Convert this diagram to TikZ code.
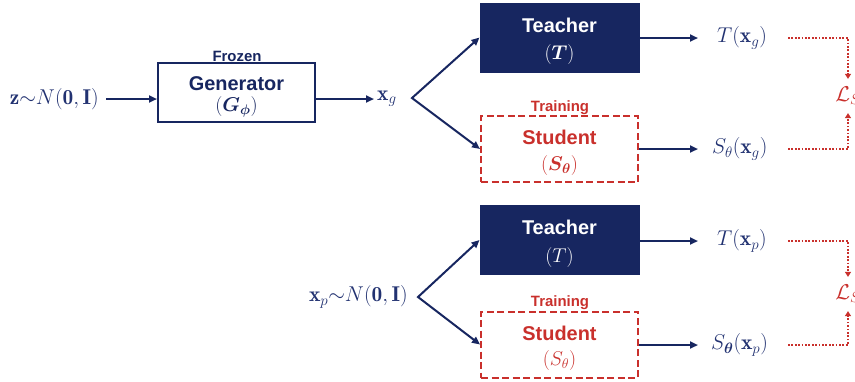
\RequirePackage{fix-cm}
\documentclass[tikz,border=0pt]{standalone}
\usepackage{amsmath}
\usepackage{fontspec}
\setsansfont{Liberation Sans}
\usepackage{bm}
\usetikzlibrary{arrows.meta}
\definecolor{navy}{HTML}{172660}
\definecolor{lnavy}{HTML}{223271}
\definecolor{dred}{HTML}{C9302C}
\newcommand{\tstrut}{\rule{0pt}{22bp}}
\begin{document}
\begin{tikzpicture}[x=1bp,y=-1bp,
  box/.style={draw=navy, line width=2bp, minimum width=157bp, minimum height=59bp, inner sep=0pt, align=center, text=navy, font=\fontsize{20}{21}\selectfont},
  tbox/.style={fill=navy, draw=navy, line width=1bp, minimum width=159bp, minimum height=69bp, inner sep=0pt, align=center, text=white, font=\fontsize{20}{28}\selectfont},
  sbox/.style={draw=dred, line width=2bp, dash pattern=on 7bp off 3.5bp, minimum width=157bp, minimum height=66bp, inner sep=0pt, align=center, text=dred, font=\fontsize{20}{26}\selectfont},
  tag/.style={inner sep=0pt, font=\sffamily\bfseries\fontsize{15}{18}\selectfont},
  mlbl/.style={inner sep=0pt, text=lnavy, font=\fontsize{21.5}{24}\selectfont},
  flow/.style={draw=navy, line width=2bp, -{Triangle[length=8bp,width=7bp]}},
  flow2/.style={draw=navy, line width=2bp, {Triangle[length=8bp,width=7bp]}-{Triangle[length=8bp,width=7bp]}},
  loss/.style={draw=dred, line width=2.2bp, dash pattern=on 1.7bp off 1.7bp, -{Triangle[length=5bp,width=6bp]}}
]
\useasboundingbox (0,0) rectangle (855,381);

% ---------- top row ----------
\node[mlbl, anchor=east] (z) at (99,99) {$\mathbf{z}\mathord{\sim}N(\mathbf{0},\mathbf{I})$};
\node[box] (gen) at (236.5,92.5) {\tstrut\textsf{\textbf{Generator}}\\$(\bm{G_{\phi}})$};
\node[tag, text=navy] (frz) at (237,56) {Frozen};
\node[mlbl, anchor=west] (xg) at (377,99) {$\mathbf{x}_g$};
\coordinate (b1) at (412,98);
\node[tbox] (t1) at (559.5,37.5) {\tstrut\textsf{\textbf{Teacher}}\\$(\bm{T})$};
\node[sbox] (s1) at (559.5,149) {\tstrut\textsf{\textbf{Student}}\\$(\bm{S_{\theta}})$};
\node[tag, text=dred] (tr1) at (560,107.5) {Training};
\node[mlbl, anchor=west] (tg) at (717,38) {$T(\mathbf{x}_g)$};
\node[mlbl, anchor=west] (sg) at (712,149) {$S_{\theta}(\mathbf{x}_g)$};
\node[mlbl, text=dred] (l1) at (848,96) {$\mathcal{L}_S$};
\coordinate (d1) at (788,38);
\coordinate (d2) at (788,149);

\draw[flow, shorten <=7bp] (z.east) -- (z.east -| gen.west);
\draw[flow, shorten >=3bp] (gen.east |- xg.west) -- (xg.west);
\draw[flow2] (t1.west) -- (b1) -- (s1.west);
\draw[flow, shorten >=19bp] (t1.east |- tg.west) -- (tg.west);
\draw[flow, shorten >=14bp] (s1.east |- sg.west) -- (sg.west);
\draw[loss, shorten >=8bp] (d1) -| (l1.north);
\draw[loss, shorten >=8bp] (d2) -| (l1.south);

% ---------- bottom row ----------
\node[mlbl, anchor=east] (xp) at (408,297) {$\mathbf{x}_p\mathord{\sim}N(\mathbf{0},\mathbf{I})$};
\coordinate (b2) at (418,297);
\node[tbox] (t2) at (559.5,240) {\tstrut\textsf{\textbf{Teacher}}\\$(T)$};
\node[sbox] (s2) at (559.5,344.5) {\tstrut\textsf{\textbf{Student}}\\$(S_{\theta})$};
\node[tag, text=dred] (tr2) at (560,303) {Training};
\node[mlbl, anchor=west] (tp) at (717,241) {$T(\mathbf{x}_p)$};
\node[mlbl, anchor=west] (sp) at (711,345) {$S_{\bm{\theta}}(\mathbf{x}_p)$};
\node[mlbl, text=dred] (l2) at (848,294) {$\mathcal{L}_S$};
\coordinate (d3) at (788,241);
\coordinate (d4) at (788,345);

\draw[flow2] (t2.west) -- (b2) -- (s2.west);
\draw[flow, shorten >=19bp] (t2.east |- tp.west) -- (tp.west);
\draw[flow, shorten >=13bp] (s2.east |- sp.west) -- (sp.west);
\draw[loss, shorten >=8bp] (d3) -| (l2.north);
\draw[loss, shorten >=8bp] (d4) -| (l2.south);
\end{tikzpicture}
\end{document}
